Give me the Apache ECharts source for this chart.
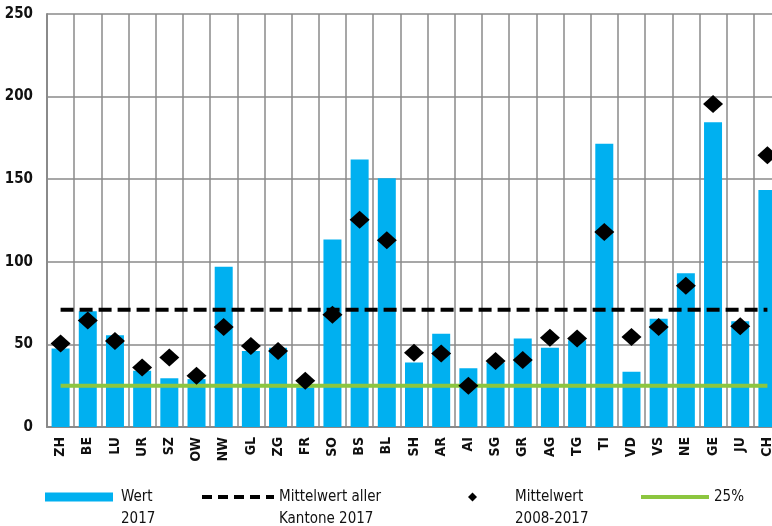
<!DOCTYPE html>
<html><head><meta charset="utf-8">
<script src="https://cdn.jsdelivr.net/npm/echarts@6/dist/echarts.min.js"></script>
<style>html,body{margin:0;padding:0;overflow:hidden;background:#fff}#c{width:781px;height:526px}</style>
</head><body><div id="c"></div>
<script>
const categories = ['ZH','BE','LU','UR','SZ','OW','NW','GL','ZG','FR','SO','BS','BL','SH','AR','AI','SG','GR','AG','TG','TI','VD','VS','NE','GE','JU','CH'];
const wert2017 = [47.5,70,55.5,34,29.5,29,97,46,48,24,113.5,162,150.5,39,56.5,35.5,39,53.5,48,52.5,171.5,33.5,65.5,93,184.5,64,143.5];
const mittel0817 = [50.5,64.5,52,36,42,31,60.5,49,46,28,68,125.5,113,45,44.5,25,40,40.5,54,53.5,118,54.5,60.5,85.5,195.5,61,164.5];
const mittelAlle = 71;
const quartil = 25;
const yTicks = [0,50,100,150,200,250];
const mittelAlleLine = categories.map(() => mittelAlle);
const quartilLine = categories.map(() => quartil);

const font = '"DejaVu Sans Condensed", "Liberation Sans Narrow", sans-serif';
const names = ['Wert 2017','Mittelwert aller Kantone 2017','Mittelwert 2008-2017','25%'];
const labels = {
  'Wert 2017':'\nWert\n2017',
  'Mittelwert aller Kantone 2017':'\nMittelwert aller\nKantone 2017',
  'Mittelwert 2008-2017':'\nMittelwert\n2008-2017',
  '25%':'\n25%\n'
};
const textBase = {fontFamily:font, fontSize:15, color:'#111', lineHeight:22};
const legendBase = {top:464, padding:0, itemHeight:12, textStyle:textBase, formatter: n => labels[n], selectedMode:false};

const chart = echarts.init(document.getElementById('c'));
chart.setOption({
  animation:false,
  grid:{left:47, right:0, top:14, bottom:99},
  legend:[
    Object.assign({}, legendBase, {left:45, itemWidth:68, itemHeight:9,
      textStyle:Object.assign({}, textBase, {padding:[0,0,0,3]}),
      data:[{name:names[0], icon:'rect'}]}),
    Object.assign({}, legendBase, {left:200, itemWidth:72, lineStyle:{width:4, type:[10,6], color:'#000'},
      data:[{name:names[1], itemStyle:{opacity:0}}]}),
    Object.assign({}, legendBase, {left:468, itemWidth:9, itemHeight:9,
      textStyle:Object.assign({}, textBase, {padding:[0,0,0,33]}),
      data:[{name:names[2], icon:'diamond'}]}),
    Object.assign({}, legendBase, {left:639, itemWidth:68, lineStyle:{width:4, color:'#8cc63f'},
      data:[{name:names[3], itemStyle:{opacity:0}}]})
  ],
  xAxis:{type:'category', data:categories, boundaryGap:true,
    axisLine:{lineStyle:{color:'#8a8a8a', width:2}}, axisTick:{show:false},
    splitLine:{show:true, lineStyle:{color:'#8a8a8a', width:1.5}},
    axisLabel:{rotate:90, interval:0, margin:10, fontFamily:font, fontWeight:'bold', fontSize:14, color:'#111'}},
  yAxis:{type:'value', min:0, max:250, interval:50,
    axisLine:{show:true, lineStyle:{color:'#8a8a8a', width:2}}, axisTick:{show:false},
    splitLine:{lineStyle:{color:'#8a8a8a', width:1.5}},
    axisLabel:{margin:14, fontFamily:font, fontWeight:'bold', fontSize:15, color:'#111',
      formatter: v => yTicks.includes(v) ? String(v) : ''}},
  series:[
    {name:names[0], type:'bar', data:wert2017, barWidth:18, itemStyle:{color:'#00b0f0'}, z:2},
    {name:names[1], type:'line', data:mittelAlleLine, symbol:'none', lineStyle:{color:'#000', width:4, type:[13,6]}, itemStyle:{color:'#000'}, z:3},
    {name:names[2], type:'scatter', data:mittel0817, symbol:'diamond', symbolSize:[20,18], itemStyle:{color:'#000', opacity:1}, z:5},
    {name:names[3], type:'line', data:quartilLine, symbol:'none', lineStyle:{color:'#8cc63f', width:4}, itemStyle:{color:'#8cc63f'}, z:4}
  ]
});
</script></body></html>
